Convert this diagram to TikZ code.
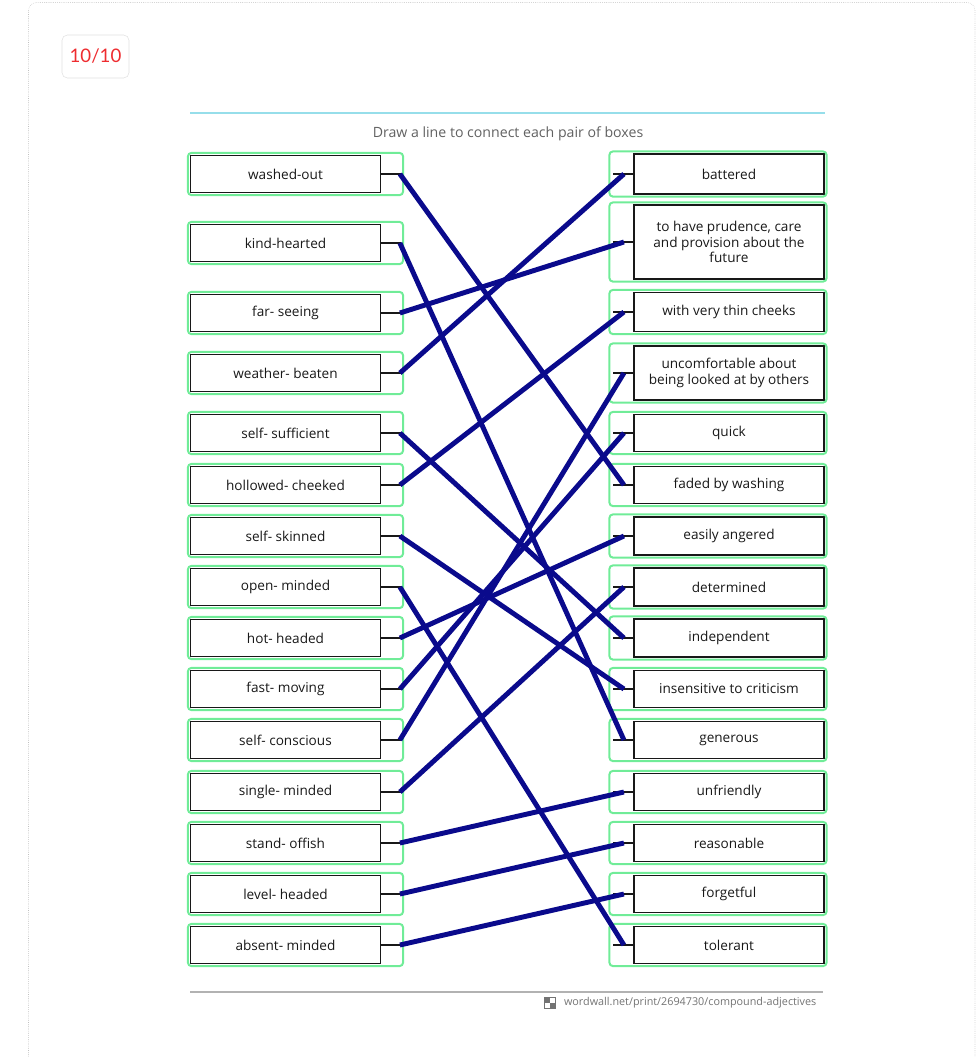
\documentclass[tikz,border=0pt]{standalone}
\usepackage{fontspec}
\usetikzlibrary{positioning}
\setmainfont{Open Sans}
\newfontfamily\scorefont{Lato}
\definecolor{pen}{RGB}{10,10,140}
\definecolor{frame}{RGB}{112,236,152}
\definecolor{ink}{RGB}{24,24,24}
\definecolor{score}{RGB}{238,44,48}
\definecolor{rule}{RGB}{150,222,234}
\begin{document}
\begin{tikzpicture}[x=0.75pt,y=-0.75pt,
  wordbox/.style={draw=ink, line width=1.1pt, minimum width=142.5pt, minimum height=27.75pt,
    inner sep=1pt, text=ink, align=center, font=\fontsize{10.2}{11.8}\selectfont},
  tick/.style={draw=ink, line width=1.6pt},
  greenframe/.style={draw=frame, line width=1.5pt, rounded corners=3pt},
  link/.style={draw=pen, line width=3.7pt}]
  \useasboundingbox (0,0) rectangle (980,1057);
  \draw[black!25, densely dotted, rounded corners=6pt] (28.5,2.5) rectangle (975,1080);
  \node[draw=black!12, rounded corners=4pt, minimum width=50.25pt, minimum height=32.25pt,
    text=score, font=\scorefont\fontsize{14}{16}\selectfont] (mark) at (95.5,56.5) {10/10};
  \draw[rule, line width=1.2pt] (190,113) -- (825,113);
  \node[text=black!62, font=\fontsize{10.6}{12}\selectfont] (title) at (508,133.5) {Draw a line to connect each pair of boxes};
  \foreach \n/\y/\t in {1/174/washed-out, 2/243/kind-hearted, 3/313/far- seeing, 4/373/weather- beaten,
      5/433/self- sufficient, 6/485/hollowed- cheeked, 7/536/self- skinned, 8/587/open- minded,
      9/638/hot- headed, 10/689/fast- moving, 11/740/self- conscious, 12/792/single- minded,
      13/843/stand- offish, 14/894/level- headed, 15/945/absent- minded} {
    \node[wordbox] (w\n) at (285.5,\y) {\t};
    \draw[tick] (w\n.east) -- ++(20,0);
    \draw[greenframe] ([shift={(-2,-2)}]w\n.north west) rectangle ([shift={(22,2)}]w\n.south east);
    \coordinate (wp\n) at ([xshift=14]w\n.east);
  }
  \foreach \n/\y/\h/\t in {1/174/40/battered, 2/242/74/{to have prudence, care\\and provision about the\\future},
      3/312/39/with very thin cheeks, 4/373/54/{uncomfortable about\\being looked at by others},
      5/433/37/quick, 6/485/37/faded by washing, 7/536/38/easily angered, 8/587/38/determined,
      9/638/38/independent, 10/689/37/insensitive to criticism, 11/740/37/generous,
      12/792/37/unfriendly, 13/843/37/reasonable, 14/894/37/forgetful, 15/945/37/tolerant} {
    \node[wordbox, minimum height=\h*0.75pt] (m\n) at (729,\y) {\t};
    \draw[tick] (m\n.west) -- ++(-20,0);
    \draw[greenframe] ([shift={(-24,-2)}]m\n.north west) rectangle ([shift={(2,2)}]m\n.south east);
    \coordinate (mp\n) at ([xshift=-7]m\n.west);
  }
  \foreach \a/\b in {1/6, 2/11, 3/2, 4/1, 5/9, 6/3, 7/10, 8/15, 9/7, 10/5, 11/4, 12/8, 13/12, 14/13, 15/14}
    \draw[link] (wp\a) -- (mp\b);
  \draw[black!30, line width=1pt] (190,992) -- (823,992);
  \node[anchor=east, text=black!55, font=\fontsize{8.1}{9}\selectfont] (url) at (821,1003) {wordwall.net/print/2694730/compound-adjectives};
  \node[draw=black!55, line width=0.6pt, minimum size=8.5pt, inner sep=0pt, left=2.5pt of url] (logo) {};
  \fill[black!55] (logo.north west) rectangle (logo.center);
  \fill[black!55] (logo.center) rectangle (logo.south east);
\end{tikzpicture}
\end{document}
